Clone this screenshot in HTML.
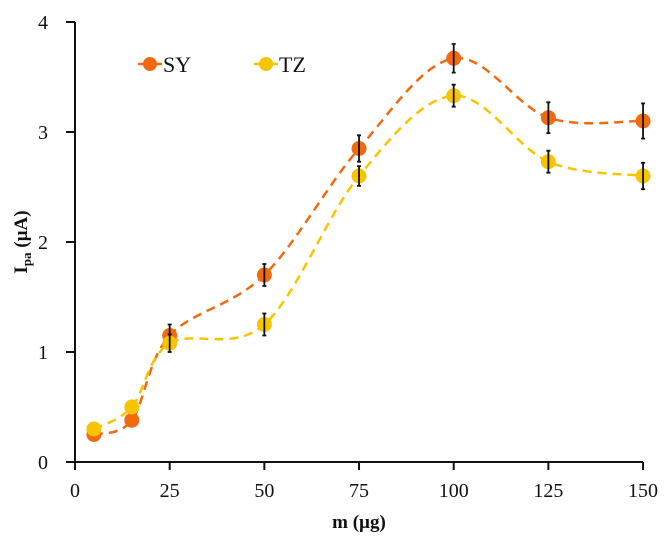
<!DOCTYPE html>
<html><head><meta charset="utf-8"><style>
body{margin:0;background:#fff;}
svg{display:block;font-family:"Liberation Serif",serif;}
</style></head><body>
<svg id="chart" width="670" height="559" xmlns="http://www.w3.org/2000/svg">
<g id="axes"></g><g id="series"></g>
<g>
 <g>
  <line x1="138" y1="64" x2="162" y2="64" stroke="#f26a10" stroke-width="2.5"/>
  <circle cx="150" cy="64" r="7" fill="#f26a10"/>
  <text x="163" y="72" font-size="22" fill="#111">SY</text>
 </g>
 <g>
  <line x1="254" y1="64" x2="278" y2="64" stroke="#f8c400" stroke-width="2.5"/>
  <circle cx="266" cy="64" r="7" fill="#f8c400"/>
  <text x="279" y="72" font-size="22" fill="#111">TZ</text>
 </g>
</g>
<text x="359" y="528" font-size="19" font-weight="bold" text-anchor="middle" fill="#111">m (µg)</text>
<text transform="translate(27,242) rotate(-90)" font-size="19" font-weight="bold" text-anchor="middle" fill="#111">I<tspan font-size="13" dy="4">pa</tspan><tspan dy="-4"> (µA)</tspan></text>
</svg>
<script>
const xValues=[5,15,25,50,75,100,125,150];
const sySeries=[0.25,0.38,1.15,1.70,2.85,3.67,3.13,3.10];
const syErrors=[0,0,0.1,0.1,0.12,0.13,0.14,0.16];
const tzSeries=[0.30,0.50,1.08,1.25,2.60,3.33,2.73,2.60];
const tzErrors=[0,0,0.08,0.1,0.09,0.1,0.1,0.12];
const xTicks=[0,25,50,75,100,125,150];
const yTicks=[0,1,2,3,4];
const NS="http://www.w3.org/2000/svg";
const X=v=>75+v*3.787, Y=v=>462-v*110;
function mk(tag,attrs,parent){const e=document.createElementNS(NS,tag);for(const k in attrs)e.setAttribute(k,attrs[k]);parent.appendChild(e);return e;}
const ax=document.getElementById('axes');
const xa=mk('line',{x1:75,y1:462,x2:X(150),y2:462,stroke:'#111','stroke-width':2},ax);


const ya=mk('line',{x1:75,y1:462,x2:75,y2:Y(4),stroke:'#111','stroke-width':2},ax);


xTicks.forEach(t=>{
 mk('line',{x1:X(t),y1:462,x2:X(t),y2:470,stroke:'#111','stroke-width':2},ax);
 const tx=mk('text',{x:X(t),y:497,'font-size':20,'text-anchor':'middle',fill:'#111'},ax);tx.textContent=t;
 
 
});
yTicks.forEach(t=>{
 mk('line',{x1:66,y1:Y(t),x2:75,y2:Y(t),stroke:'#111','stroke-width':2},ax);
 const tx=mk('text',{x:48,y:Y(t)+7,'font-size':20,'text-anchor':'end',fill:'#111'},ax);tx.textContent=t;
 
 
});
function spline(pts){let d=`M${pts[0][0]},${pts[0][1]}`;
 for(let i=0;i<pts.length-1;i++){const p0=pts[i-1]||pts[i],p1=pts[i],p2=pts[i+1],p3=pts[i+2]||p2;
  const c1=[p1[0]+(p2[0]-p0[0])/6,p1[1]+(p2[1]-p0[1])/6],c2=[p2[0]-(p3[0]-p1[0])/6,p2[1]-(p3[1]-p1[1])/6];
  d+=` C${c1[0]},${c1[1]} ${c2[0]},${c2[1]} ${p2[0]},${p2[1]}`;}return d;}
const sg=document.getElementById('series');
function draw(vals,errs,color,name){
 const g=mk('g',{},sg);
 
 
 const pts=xValues.map((x,i)=>[X(x),Y(vals[i])]);
 const p=mk('path',{d:spline(pts),fill:'none',stroke:color,'stroke-width':2.5,'stroke-dasharray':'9,6'},g);
 
 
 pts.forEach((pt,i)=>{
  const c=mk('circle',{cx:pt[0],cy:pt[1],r:7.5,fill:color},g);
  
  
  if(errs[i]>0){const e=mk('path',{d:`M${pt[0]},${Y(vals[i]+errs[i])}V${Y(vals[i]-errs[i])}M${pt[0]-2},${Y(vals[i]+errs[i])}h4M${pt[0]-2},${Y(vals[i]-errs[i])}h4`,stroke:'#111','stroke-width':1.8,fill:'none'},g);
  
  }
 });
}
draw(sySeries,syErrors,'#f26a10','sy');
draw(tzSeries,tzErrors,'#f8c400','tz');
</script>
</body></html>
